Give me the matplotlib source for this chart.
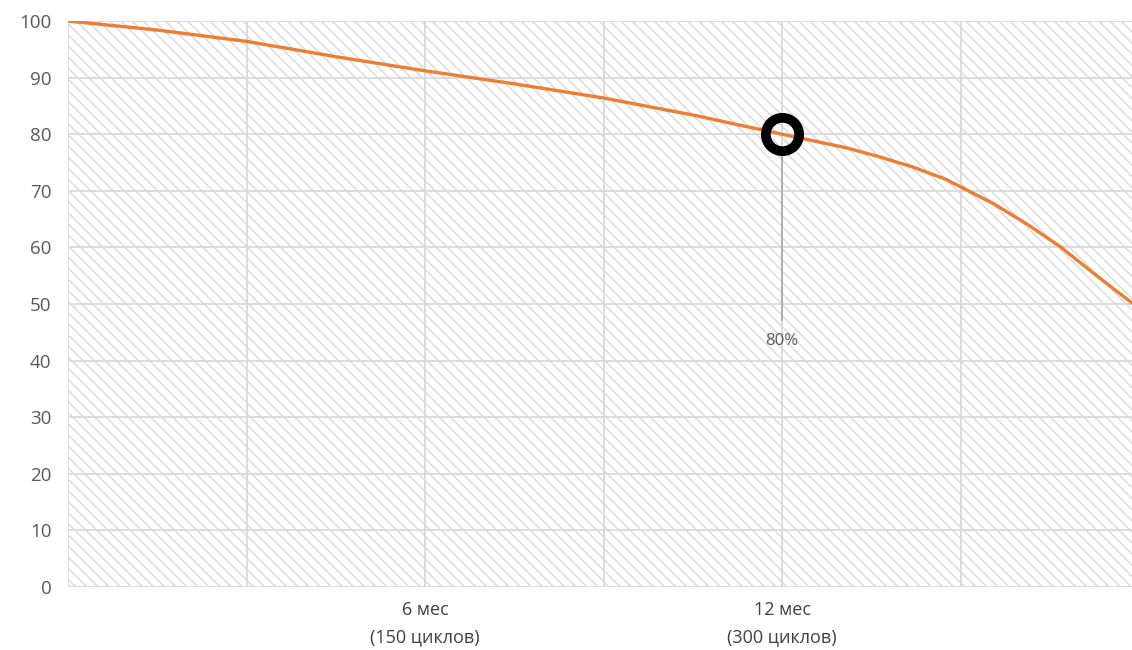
import matplotlib
matplotlib.use("Agg")
import matplotlib.pyplot as plt

plt.rcParams['font.family'] = ['Open Sans', 'DejaVu Sans']
plt.rcParams['hatch.color'] = '#d9d9d9'
plt.rcParams['hatch.linewidth'] = 1.0

# capacity (%) vs charge cycles
cycles = [0, 37.5, 75, 112.5, 150, 187.5, 225, 262.5, 300, 327, 341, 355, 369,
          375, 389, 403, 417, 431, 447]
capacity = [100, 98.4, 96.4, 93.7, 91.2, 88.9, 86.4, 83.4, 80, 77.6, 76.0, 74.2, 72.0,
            70.7, 67.7, 64.1, 60.1, 55.4, 50.2]

grid_x = [0, 75, 150, 225, 300, 375, 450]
tick_pos = [150, 300]
tick_labels = ["6 мес\n(150 циклов)", "12 мес\n(300 циклов)"]
y_ticks = list(range(0, 101, 10))

mark_x, mark_y = 300, 80
mark_label = "80%"

fig = plt.figure(figsize=(11.32, 6.5), dpi=100)
ax = fig.add_axes([68/1132, 63/650, (1139-68)/1132, (587-21)/650])

ax.set_xlim(0, 450)
ax.set_ylim(0, 100)

# hatched background
ax.fill_between([0, 450], 0, 100, facecolor='white', edgecolor='#d9d9d9',
                hatch='\\\\\\', linewidth=0, zorder=0)

for gx in grid_x:
    ax.axvline(gx, color='#d9d9d9', lw=1.3, zorder=1)
for gy in y_ticks:
    ax.axhline(gy, color='#d9d9d9', lw=1.3, zorder=1)

ax.plot(cycles, capacity, color='#ED7D31', lw=2.4, zorder=3,
        solid_capstyle='round', solid_joinstyle='round')

# marker and leader line
ax.plot([mark_x, mark_x], [47.2, mark_y - 3.5], color='#a6a6a6', lw=1.2, zorder=2)
ax.plot([mark_x], [mark_y], marker='o', ms=24, mfc='none', mec='black', mew=7, zorder=4)
ax.text(mark_x, 43.4, mark_label, ha='center', va='center', fontsize=12, color='#595959')

for s in ax.spines.values():
    s.set_visible(False)

ax.set_yticks(y_ticks)
ax.set_yticklabels([str(v) for v in y_ticks], fontsize=13.5, color='#595959')
ax.set_xticks(tick_pos)
ax.set_xticklabels(tick_labels, fontsize=13, color='#404040', linespacing=1.65)
ax.tick_params(axis='both', length=0)
ax.tick_params(axis='y', pad=12)
ax.tick_params(axis='x', pad=10)

fig.savefig("out.png", dpi=100)
plt.close(fig)
